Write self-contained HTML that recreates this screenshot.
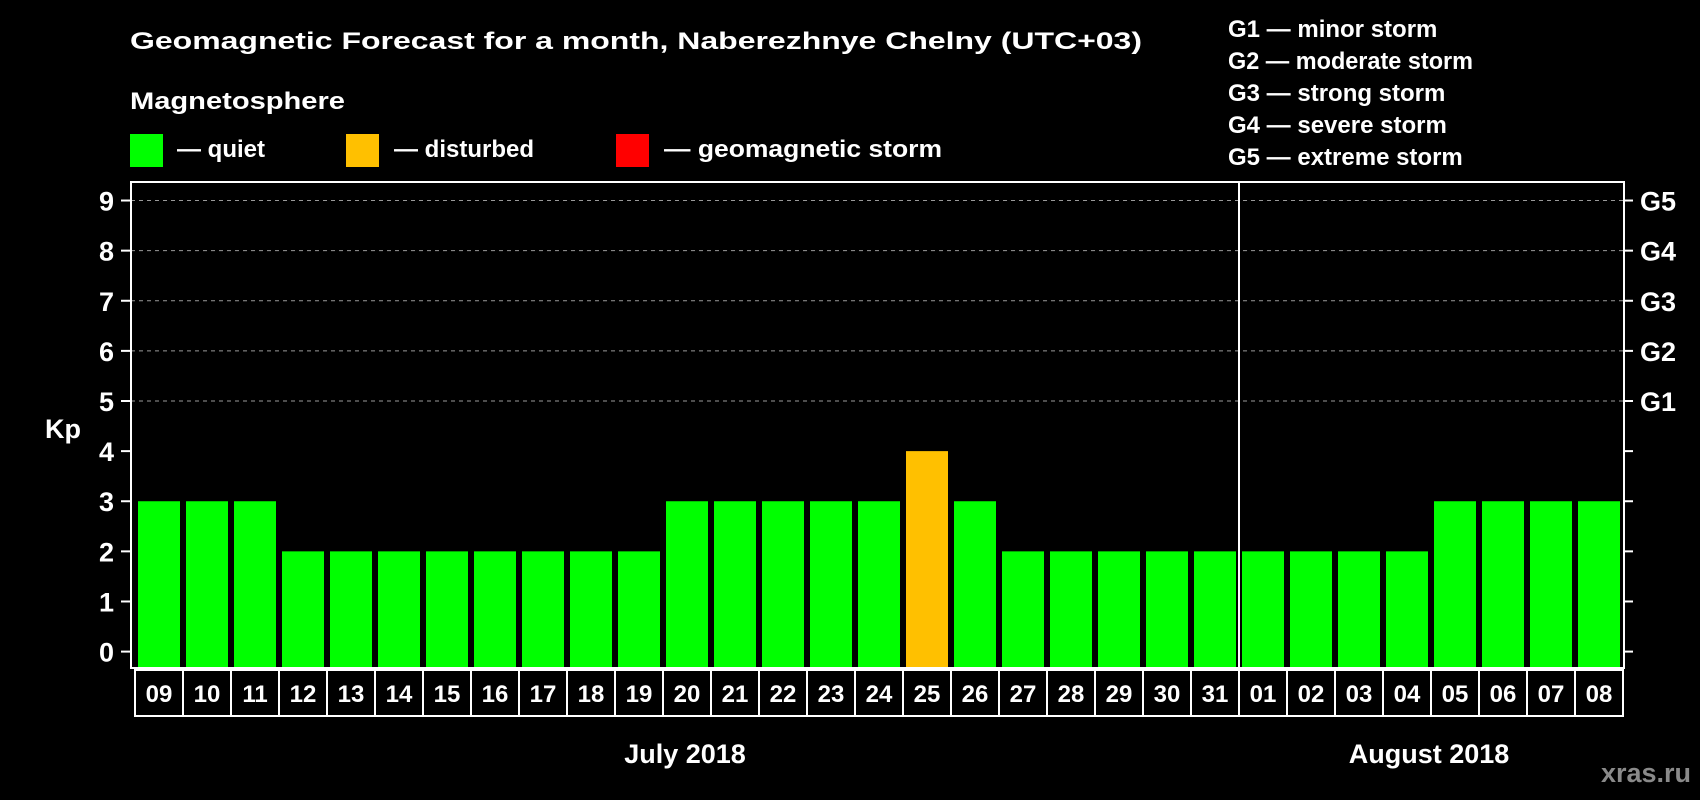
<!DOCTYPE html>
<html><head><meta charset="utf-8"><style>
html,body{margin:0;padding:0;background:#000;width:1700px;height:800px;overflow:hidden}
svg{display:block;font-family:"Liberation Sans",Arial,sans-serif;font-weight:bold}
</style></head><body>
<svg id="chart" width="1700" height="800" viewBox="0 0 1700 800" xmlns="http://www.w3.org/2000/svg">
<rect width="1700" height="800" fill="#000"/>
<text x="130" y="49" fill="#fff" font-size="24" textLength="1012" lengthAdjust="spacingAndGlyphs">Geomagnetic Forecast for a month, Naberezhnye Chelny (UTC+03)</text>
<text x="130" y="109" fill="#fff" font-size="24" textLength="215" lengthAdjust="spacingAndGlyphs">Magnetosphere</text>
<g>
<rect x="130" y="134" width="33" height="33" fill="#00ff00"/>
<text x="177" y="157" fill="#fff" font-size="24">— quiet</text></g>
<g>
<rect x="346" y="134" width="33" height="33" fill="#ffc000"/>
<text x="394" y="157" fill="#fff" font-size="24">— disturbed</text></g>
<g>
<rect x="616" y="134" width="33" height="33" fill="#ff0000"/>
<text x="664" y="157" fill="#fff" font-size="24" textLength="278" lengthAdjust="spacingAndGlyphs">— geomagnetic storm</text></g>
<g fill="#fff" font-size="24">
<text x="1228" y="37">G1 — minor storm</text>
<text x="1228" y="69" textLength="245" lengthAdjust="spacingAndGlyphs">G2 — moderate storm</text>
<text x="1228" y="101">G3 — strong storm</text>
<text x="1228" y="133">G4 — severe storm</text>
<text x="1228" y="165">G5 — extreme storm</text>
</g>
<g id="grid"></g>
<g id="bars"></g>
<rect x="131" y="182" width="1493" height="486" fill="none" stroke="#fff" stroke-width="2"/>
<g id="axes"></g>
<text x="63" y="438" fill="#fff" font-size="27" text-anchor="middle">Kp</text>
<text x="685" y="763" fill="#fff" font-size="27" text-anchor="middle">July 2018</text>
<text x="1429" y="763" fill="#fff" font-size="27" text-anchor="middle">August 2018</text>
<text x="1691" y="782" fill="#8a8a8a" font-size="27" text-anchor="end">xras.ru</text>
</svg>
<script>
const days = ["09","10","11","12","13","14","15","16","17","18","19","20","21","22","23","24","25","26","27","28","29","30","31","01","02","03","04","05","06","07","08"];
const kpValues = [3,3,3,2,2,2,2,2,2,2,2,3,3,3,3,3,4,3,2,2,2,2,2,2,2,2,2,3,3,3,3];
const yTicks = [0,1,2,3,4,5,6,7,8,9];
const gLabels = ["G1","G2","G3","G4","G5"];
const monthBreakIndex = 23;

const NS = "http://www.w3.org/2000/svg";
const plotL = 131, plotR = 1624, plotT = 182, plotB = 668;
const y = v => 651.6 - v * 50.12;
const x = i => 138 + i * 48;
const barW = 42;
function mk(tag, attrs){const e=document.createElementNS(NS,tag);for(const k in attrs)e.setAttribute(k,attrs[k]);return e;}
function color(v){return v>=5?"#ff0000":(v>=4?"#ffc000":"#00ff00");}

const grid = document.getElementById("grid");
const bars = document.getElementById("bars");
const axes = document.getElementById("axes");

yTicks.forEach(t=>{
  if(t>=5){
    const l = mk("line",{x1:plotL,x2:plotR,y1:y(t),y2:y(t),stroke:"#9a9a9a","stroke-width":1,"stroke-dasharray":"4,4"});
    
    
    grid.appendChild(l);
  }
  const tk = mk("line",{x1:plotL-10,x2:plotL,y1:y(t),y2:y(t),stroke:"#fff","stroke-width":2});
  
  
  axes.appendChild(tk);
  const tr = mk("line",{x1:plotR,x2:plotR+9,y1:y(t),y2:y(t),stroke:"#fff","stroke-width":2});
  
  
  axes.appendChild(tr);
  const lb = mk("text",{x:114,y:y(t)+10,fill:"#fff","font-size":27,"text-anchor":"end"});
  lb.textContent = t;
  
  
  axes.appendChild(lb);
});
gLabels.forEach((g,i)=>{
  const lb = mk("text",{x:1640,y:y(5+i)+10,fill:"#fff","font-size":27});
  lb.textContent = g;
  
  
  axes.appendChild(lb);
});
kpValues.forEach((v,i)=>{
  const r = mk("rect",{x:x(i),y:y(v),width:barW,height:plotB-y(v),fill:color(v)});
  
  
  bars.appendChild(r);
  const box = mk("rect",{x:x(i)-3,y:670,width:48,height:46,fill:"none",stroke:"#fff","stroke-width":2});
  
  
  axes.appendChild(box);
  const t = mk("text",{x:x(i)+barW/2,y:702,fill:"#fff","font-size":24,"text-anchor":"middle"});
  t.textContent = days[i];
  
  
  axes.appendChild(t);
});
const div = mk("line",{x1:x(monthBreakIndex)-3,x2:x(monthBreakIndex)-3,y1:plotT,y2:716,stroke:"#fff","stroke-width":2});


axes.appendChild(div);
</script>
</body></html>
